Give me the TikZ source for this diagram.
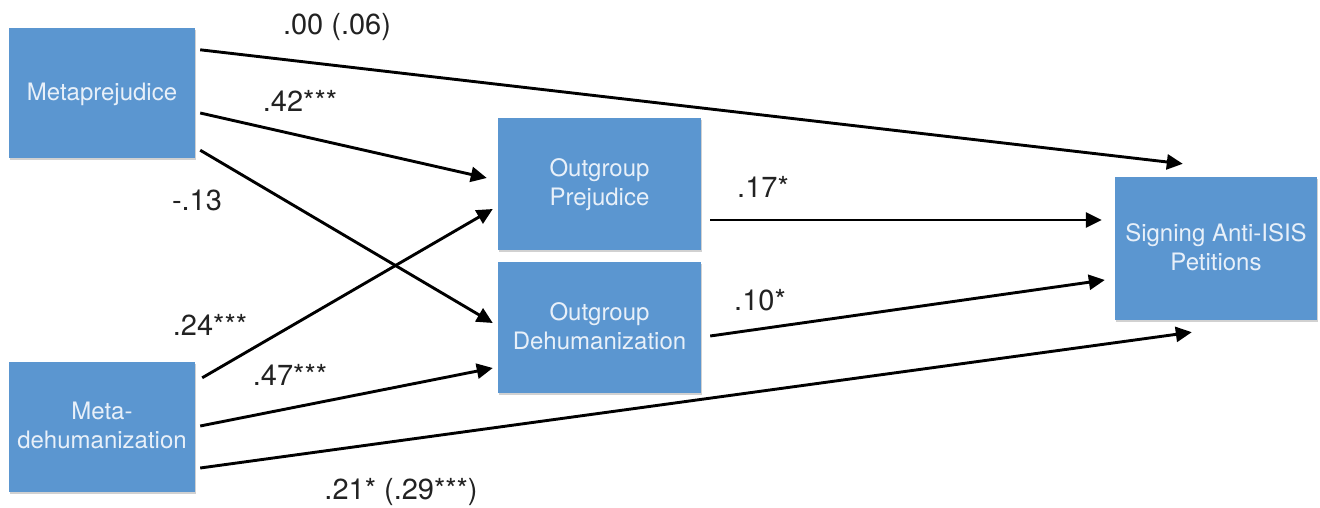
\documentclass[tikz,border=0pt]{standalone}
\usepackage{fontspec}
\setmainfont{TeX Gyre Heros}
\usetikzlibrary{arrows.meta,calc,shadows}

\definecolor{boxblue}{RGB}{91,150,208}
\definecolor{boxtext}{RGB}{232,240,249}
\definecolor{labeltext}{RGB}{34,34,34}

\tikzset{
  varbox/.style={fill=boxblue, draw=none, align=center, text=boxtext,
    font=\fontsize{24}{29}\selectfont, inner sep=0pt, text depth=3pt,
    drop shadow={shadow xshift=1pt, shadow yshift=-2pt, opacity=0.18, fill=black}},
  path/.style={line width=2.9pt, draw=black,
    -{Triangle[length=16pt,width=15pt]}},
  coef/.style={text=labeltext, font=\fontsize{29}{34}\selectfont, inner sep=0pt}
}

\begin{document}
\begin{tikzpicture}[x=1pt,y=-1pt]
  \fill[white] (0,0) rectangle (1320,508);
  \useasboundingbox (0,0) rectangle (1320,508);

  % variables
  \node[varbox, minimum width=186pt, minimum height=130pt] (mp) at (102,93) {Metaprejudice};
  \node[varbox, minimum width=186pt, minimum height=130pt] (md) at (102,427) {Meta-\\dehumanization};
  \node[varbox, minimum width=203pt, minimum height=132pt] (op) at (599.5,184) {Outgroup\\Prejudice};
  \node[varbox, minimum width=203pt, minimum height=131pt] (od) at (599.5,327.5) {Outgroup\\Dehumanization};
  \node[varbox, minimum width=202pt, minimum height=143pt] (s) at (1216,248.5) {Signing Anti-ISIS\\Petitions};

  % paths
  \draw[path] ($(mp.north east)+(5,22)$) -- ($(s.north west)+(68,-13)$);
  \draw[path] ($(mp.east)+(5,20)$) -- ($(op.west)+(-11,-6)$);
  \draw[path] ($(mp.south east)+(5,-8)$) -- ($(od.west)+(-5,-4.5)$);
  \draw[path] ($(md.north east)+(7,16)$) -- ($(op.west)+(-5,25)$);
  \draw[path] ($(md.east)+(5,-1)$) -- ($(od.west)+(-5,40.5)$);
  \draw[path] ($(md.east)+(5,41)$) -- ($(s.south west)+(77,12)$);
  \draw[path] ($(op.east)+(9,36)$) -- ($(s.west)+(-13,-28.5)$);
  \draw[path] ($(od.east)+(9,8.5)$) -- ($(s.west)+(-10,31.5)$);

  % coefficients
  \node[coef] (c1) at (337,27) {.00 (.06)};
  \node[coef] (c2) at (300,101) {.42***};
  \node[coef] (c3) at (197,200) {-.13};
  \node[coef] (c4) at (210,325) {.24***};
  \node[coef] (c5) at (290,375) {.47***};
  \node[coef] (c6) at (401,492) {.21* (.29***)};
  \node[coef] (c7) at (763,187) {.17*};
  \node[coef] (c8) at (760,300) {.10*};
\end{tikzpicture}
\end{document}
